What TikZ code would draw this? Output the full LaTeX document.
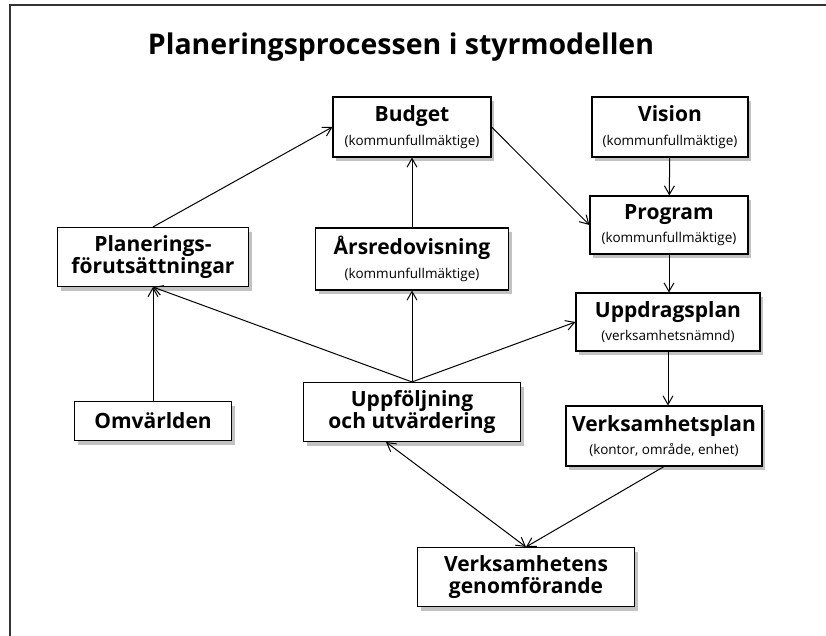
\documentclass[tikz,border=0pt]{standalone}
\usepackage{fontspec}
\setmainfont{Open Sans}
\usetikzlibrary{arrows.meta,shadows}
\tikzset{
  planbox/.style={draw, line width=1.1pt, fill=white, inner sep=0pt, align=center,
    font=\fontsize{21}{21.5}\selectfont\bfseries,
    drop shadow={shadow xshift=3pt, shadow yshift=-4pt, fill=black!40, opacity=0.6}},
  flow/.style={line width=1pt, -{Straight Barb[angle=60:10pt]}},
  twoway/.style={line width=1pt, {Straight Barb[angle=60:10pt]}-{Straight Barb[angle=60:10pt]}},
  frameline/.style={line width=2.4pt, black!80}
}
\def\subtxt{\fontsize{13.5}{15}\selectfont\mdseries}
\def\planbox(#1,#2,#3,#4,#5,#6,#7){
  \node[planbox, minimum width=#4pt, minimum height=#5pt] (#1) at (#2,#3) {#6\\[2pt]{\subtxt #7}};
}
\begin{document}
\begin{tikzpicture}[x=1pt, y=-1pt]
\useasboundingbox (0,0) rectangle (826,636);
\draw[frameline] (826,5) -- (10,5) -- (10,636);
\node[font=\fontsize{28.5}{30}\selectfont\bfseries] (title) at (401,47) {Planeringsprocessen i styrmodellen};
\planbox(budget,412,127,158,60,Budget,{(kommunfullmäktige)})
\planbox(vision,670,127,156,60,Vision,{(kommunfullmäktige)})
\planbox(program,669,225,158,58,Program,{(kommunfullmäktige)})
\planbox(ars,412,259,193,62,Årsredovisning,{(kommunfullmäktige)})
\planbox(uppdrag,668,322,184,58,Uppdragsplan,{(verksamhetsnämnd)})
\planbox(vplan,664,436,196,60,Verksamhetsplan,{(kontor, område, enhet)})
\node[planbox, minimum width=191pt, minimum height=59pt] (plan) at (153,257) {Planerings-\\förutsättningar};
\node[planbox, minimum width=157pt, minimum height=39pt] (omv) at (153,421) {Omvärlden};
\node[planbox, minimum width=217pt, minimum height=59pt] (uppf) at (412,412) {Uppföljning\\och utvärdering};
\node[planbox, minimum width=217pt, minimum height=59pt] (genom) at (526,577) {Verksamhetens\\genomförande};
\draw[flow] (plan.north) -- (budget.west);
\draw[flow] (budget.east) -- (program.west);
\draw[flow] (vision) -- (program);
\draw[flow] (program) -- (program |- uppdrag.north);
\draw[flow] (uppdrag) -- (uppdrag |- vplan.north);
\draw[flow] (ars) -- (budget);
\draw[flow] (uppf.north) -- (ars.south);
\draw[flow] (uppf.north) -- (plan.south);
\draw[flow] (uppf.north) -- (uppdrag.west);
\draw[flow] (omv) -- (plan);
\draw[flow] (vplan.south) -- (genom.north);
\draw[twoway] ([xshift=-26pt]uppf.south) -- (genom.north);
\end{tikzpicture}
\end{document}
